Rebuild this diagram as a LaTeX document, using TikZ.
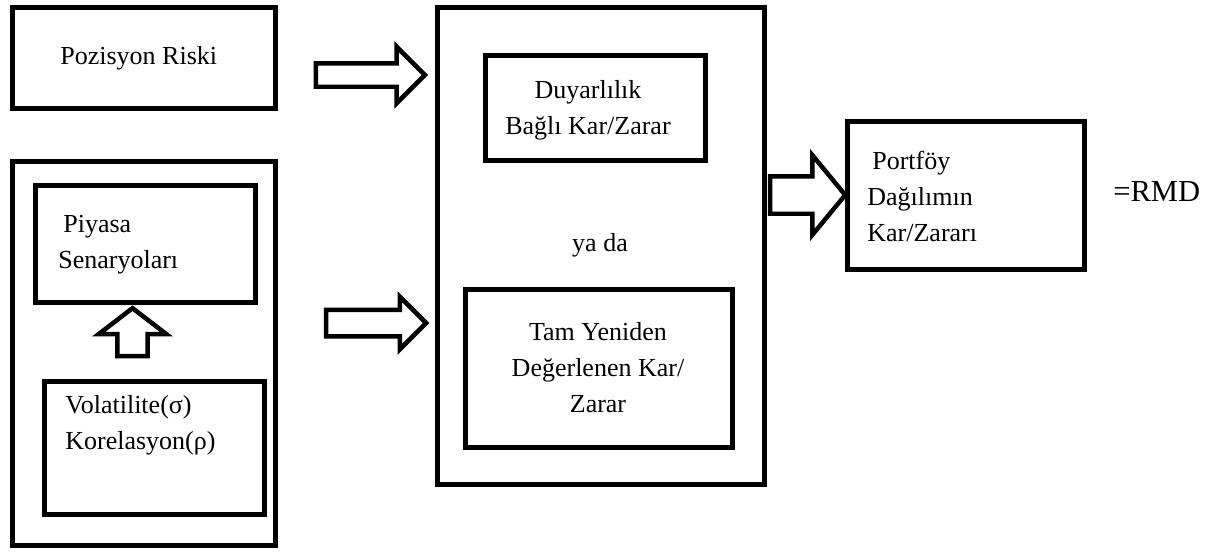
\documentclass[tikz,border=0pt]{standalone}
\usepackage{fontspec}
\setmainfont{Liberation Serif}
\usetikzlibrary{shapes.arrows}

\begin{document}
\begin{tikzpicture}[x=0.02cm,y=-0.02cm,
  box/.style={draw,line width=0.1cm,anchor=north west,inner sep=0,outer sep=0},
  txt/.style={inner sep=0,font=\fontsize{14.8}{20.5}\selectfont},
  blockarrow/.style={single arrow,draw,line width=0.09cm,inner xsep=0,outer sep=0}]
\useasboundingbox (0,0) rectangle (1221,558);
% left column
\node[box,minimum width=5.26cm,minimum height=2.02cm] (pos) at (12.5,7.5) {};
\node[box,minimum width=5.26cm,minimum height=7.68cm] (mkt) at (12.5,161.5) {};
\node[box,minimum width=4.4cm,minimum height=2.34cm] (scen) at (35.5,185.5) {};
\node[box,minimum width=4.4cm,minimum height=2.66cm] (vol) at (44.5,381.5) {};
\node[txt,anchor=west] (posT) at (60,58) {Pozisyon Riski};
\node[txt,anchor=west,align=left] (scenT) at (58,245) {\hspace{0.1cm}Piyasa\\Senaryoları};
\node[txt,anchor=west,align=left] (volT) at (65,425) {Volatilite(σ)\\Korelasyon(ρ)};
\node[blockarrow,rotate=90,inner ysep=0.26cm,minimum height=0.96cm,minimum width=1.26cm,
  single arrow head extend=0.37cm,single arrow tip angle=105] (up) at (132.5,338) {};
% middle column
\node[box,minimum width=6.54cm,minimum height=9.54cm] (val) at (437.5,7.5) {};
\node[box,minimum width=4.4cm,minimum height=2.1cm] (sens) at (485.5,55.5) {};
\node[box,minimum width=5.34cm,minimum height=3.16cm] (full) at (465.5,289.5) {};
\node[txt,align=center] (sensT) at (588,110.5) {Duyarlılık\\Bağlı Kar/Zarar};
\node[txt] (or) at (600,245) {ya da};
\node[txt,align=center] (fullT) at (598,368) {Tam Yeniden\\Değerlenen Kar/\\Zarar};
\node[blockarrow,inner ysep=0.19cm,minimum height=2.18cm,minimum width=1.04cm,
  single arrow head extend=0.33cm] (a1) at (364.5,75) {};
\node[blockarrow,inner ysep=0.22cm,minimum height=2cm,minimum width=0.96cm,
  single arrow head extend=0.26cm] (a2) at (369.5,323) {};
% right column
\node[box,minimum width=4.74cm,minimum height=2.96cm] (pnl) at (847.5,121.5) {};
\node[txt,anchor=west,align=left] (pnlT) at (867,196) {\hspace{0.1cm}Portföy\\Dağılımın\\Kar/Zararı};
\node[blockarrow,inner ysep=0.33cm,minimum height=1.5cm,minimum width=1.5cm,
  single arrow head extend=0.42cm,single arrow tip angle=101] (a3) at (800,195) {};
\node[inner sep=0,anchor=west,font=\fontsize{17.4}{20}\selectfont] (rmd) at (1113,192) {=RMD};
\end{tikzpicture}
\end{document}
